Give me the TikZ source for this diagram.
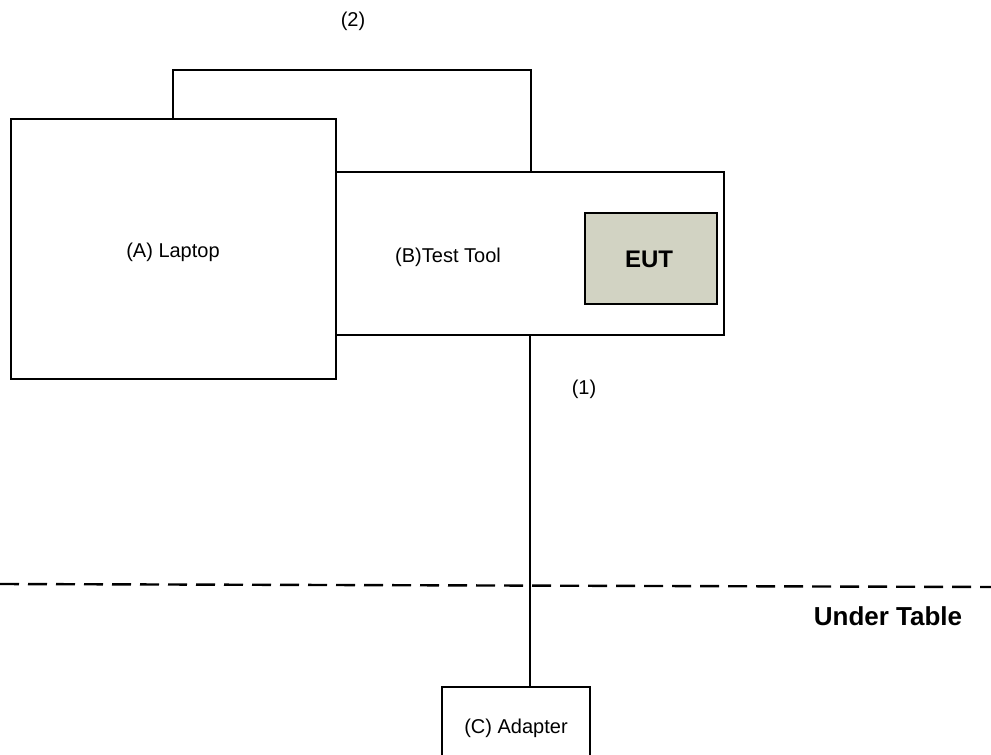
\documentclass[tikz,border=0pt]{standalone}
\usepackage{fontspec}
\setmainfont{Liberation Sans}
\definecolor{eutfill}{HTML}{D2D3C3}
\begin{document}
\begin{tikzpicture}[x=1pt,y=-1pt,
  box/.style={draw=black,line width=1.7pt,fill=white,inner sep=0pt,anchor=north west},
  wire/.style={draw=black,line width=1.3pt},
  lbl/.style={font=\fontsize{20}{24}\selectfont,anchor=base,inner sep=0pt},
  bold/.style={font=\fontsize{24}{28}\selectfont\bfseries,anchor=base,inner sep=0pt}]
\useasboundingbox (0,0) rectangle (991,755);
\begin{scope}
\clip (0,0) rectangle (991,755);
\node[box,minimum width=388pt,minimum height=163pt] (B) at (335,171) {};
\node[box,minimum width=325pt,minimum height=260pt] (A) at (10,118) {};
\node[box,fill=eutfill,minimum width=132pt,minimum height=91pt] (E) at (584,212) {};
\node[box,minimum width=148pt,minimum height=90pt] (C) at (441,686) {};
\end{scope}
\node[lbl] (At) at (173,257) {(A) Laptop};
\node[lbl] (Bt) at (448,262) {(B)Test Tool};
\node[bold] (Et) at (649,267) {EUT};
\node[lbl] (Ct) at (516,733) {(C) Adapter};
\coordinate (A1) at (173,118);
\coordinate (B1) at (531,171);
\coordinate (B2) at (530,334);
\coordinate (C1) at (530,686);
\draw[wire] (A1) -- (173,70) -- (531,70) -- (B1);
\draw[wire] (B2) -- (C1);
\node[lbl] (L2) at (353,26) {(2)};
\node[lbl] (L1) at (584,394) {(1)};
\coordinate (D1) at (0,584);
\coordinate (D2) at (991,587);
\draw[line width=2.4pt,dash pattern=on 19pt off 9pt] (D1) -- (D2);
\node[bold,font=\fontsize{26}{30}\selectfont\bfseries] (U) at (888,625) {Under Table};
\end{tikzpicture}
\end{document}
